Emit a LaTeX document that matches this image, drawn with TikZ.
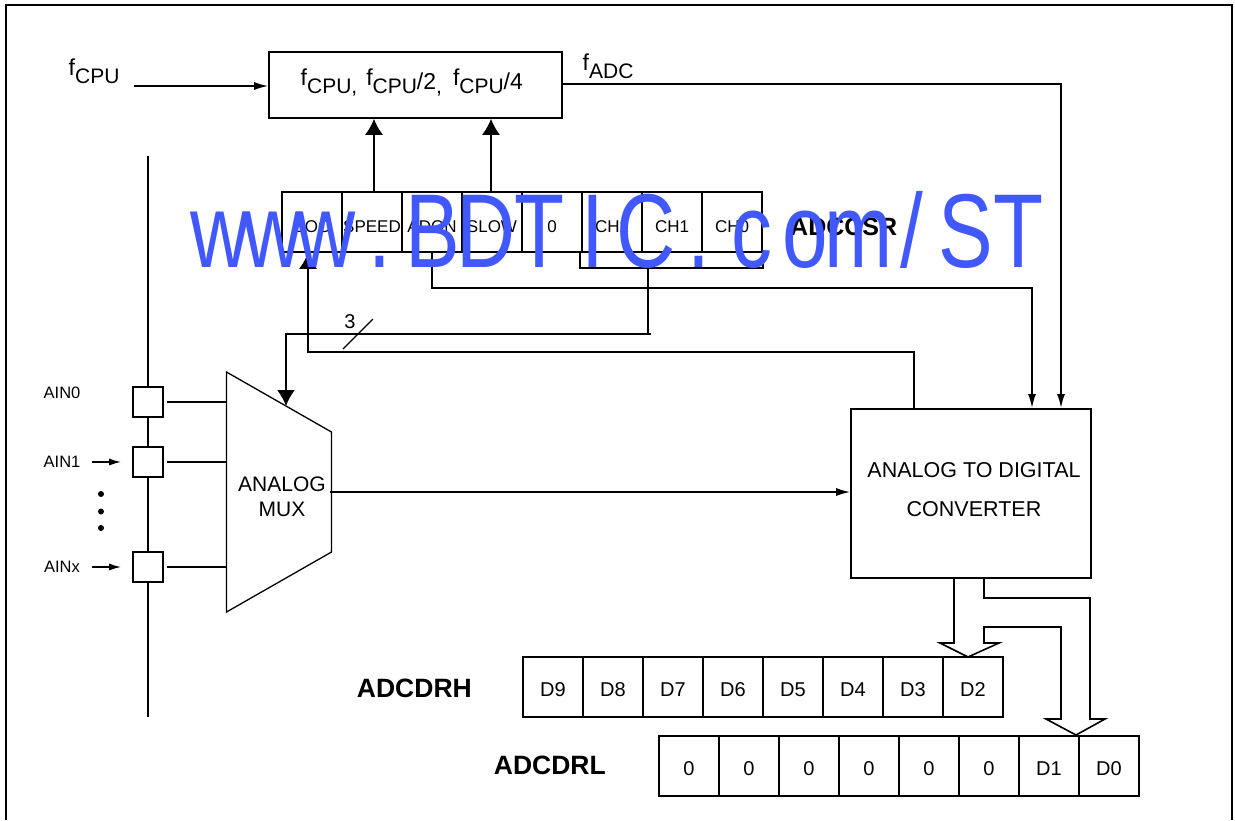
\documentclass[tikz,border=0pt]{standalone}
\usepackage{fontspec}
\setmainfont{Liberation Sans}
\usepackage{xcolor}
\usetikzlibrary{arrows.meta,positioning,calc}
\definecolor{markblue}{RGB}{65,88,255}
\newcommand{\subdrop}[1]{\raisebox{-8pt}{\fontsize{21}{23}\selectfont #1}}
\newcommand{\middrop}[1]{\raisebox{-4pt}{#1}}
\tikzset{
  sigline/.style={draw=black,line width=1.6pt},
  smallarrow/.style={sigline,-{Latex[length=14pt,width=8pt]}},
  pinarrow/.style={sigline,-{Latex[length=12pt,width=7pt]}},
  bigarrow/.style={sigline,-{Latex[length=16pt,width=18pt]}},
  regcell/.style={draw=black,line width=1.6pt,minimum width=60pt,minimum height=60pt,inner sep=0pt,text height=20pt,text depth=0pt,font=\fontsize{17}{19}\selectfont},
  datacell/.style={regcell,text height=18pt,font=\fontsize{20}{22}\selectfont},
  pinbox/.style={draw=black,line width=1.6pt,fill=white,minimum width=30pt,minimum height=30pt,inner sep=0pt},
  pinlabel/.style={font=\fontsize{16.5}{18}\selectfont,inner sep=0pt},
  reglabel/.style={font=\bfseries\fontsize{26.5}{28}\selectfont,inner sep=0pt},
  blocklabel/.style={font=\fontsize{21.5}{25}\selectfont,inner sep=0pt,align=center},
  clocklabel/.style={font=\fontsize{23}{26}\selectfont,inner sep=0pt,anchor=base west}
}
\begin{document}
\begin{tikzpicture}[x=1pt,y=-1pt]
  \useasboundingbox (0,0) rectangle (1235,820);
  % page frame
  \draw[sigline] (6,820) -- (6,5) -- (1232,5) -- (1232,820);

  % clock selection
  \node[draw,line width=1.6pt,minimum width=293pt,minimum height=66pt,inner sep=0pt] (prescaler) at (415.5,85) {};
  \node[clocklabel] (prescalertext) at (300.5,85) {f\subdrop{CPU,}\hspace{9pt}f\subdrop{CPU}\middrop{/2}\subdrop{,}\hspace{11pt}f\subdrop{CPU}\middrop{/4}};
  \node[clocklabel] (fcpu) at (68.5,75) {f\subdrop{CPU}};
  \node[clocklabel] (fadc) at (582.5,70) {f\subdrop{ADC}};
  \coordinate (fcpustart) at (134,86);
  \draw[smallarrow] (fcpustart) -- (fcpustart -| prescaler.west);

  % control register
  \foreach \lbl [count=\i] in {EOC,SPEED,ADON,SLOW,0,CH2,CH1,CH0} {
    \node[regcell] (csr\i) at ({252+60*\i},222) {\lbl};
  }
  \node[reglabel,anchor=west,font=\bfseries\fontsize{25}{28}\selectfont] (csrname) at (790,227) {ADCCSR};
  \coordinate (chcorner) at ($(csr6.south west)+(-1,15)$);
  \draw[sigline] (csr6.south west -| chcorner) -- (chcorner) -| (csr8.south east);
  \draw[bigarrow] ([xshift=2pt]csr2.north) -- ([xshift=2pt]csr2.north |- prescaler.south);
  \draw[bigarrow] ([xshift=-1pt]csr4.north) -- ([xshift=-1pt]csr4.north |- prescaler.south);

  % converter and multiplexer
  \node[draw,line width=1.6pt,minimum width=240pt,minimum height=169pt,inner sep=0pt] (adc) at (971,493.5) {};
  \node[blocklabel] (adctext) at (974,489.5) {ANALOG TO DIGITAL\\[14.5pt]CONVERTER};
  \draw[line width=1.3pt,line join=miter] (226.5,372) coordinate (muxtop) -- (331.5,432) -- (331.5,552) coordinate (muxlow) -- (226.5,612) coordinate (muxbot) -- cycle;
  \node[blocklabel,font=\fontsize{21}{25}\selectfont] (muxtext) at (282,496.5) {ANALOG\\MUX};
  \coordinate (muxout) at (330,492);
  \draw[smallarrow] (muxout) -- (muxout -| adc.west);

  % clock to converter, start and end of conversion
  \coordinate (adcclk) at (1061,408);
  \coordinate (adcstart) at (1032,408);
  \coordinate (adceoc) at (914,409);
  \draw[smallarrow] (prescaler.east |- 0,84) -| (adcclk);
  \draw[smallarrow] (csr3.south) |- (432,288) -| (adcstart);
  \draw[bigarrow] (adceoc) |- (308,352) -- ([xshift=-4pt]csr1.south);

  % channel select bus
  \coordinate (busend) at (651,334);
  \coordinate (muxsel) at (286,406);
  \draw[sigline] (648,267) -- (648,334);
  \draw[bigarrow] (busend) -| (muxsel);
  \draw[line width=1.1pt] (343,349) coordinate (slasha) -- (373,319) coordinate (slashb);
  \node[pinlabel,font=\fontsize{20}{22}\selectfont] (buswidth) at (350,322) {3};

  % analog inputs
  \draw[sigline] (148,156) coordinate (railtop) -- (148,717) coordinate (railbot);
  \foreach \name/\ypos in {0/402,1/462,x/567} {
    \node[pinbox] (pin\name) at (148,\ypos) {};
    \coordinate (muxin\name) at (226.5,\ypos);
    \draw[sigline] ([xshift=3pt]pin\name.east) -- (muxin\name);
  }
  \node[pinlabel] (ain0) at (62,393) {AIN0};
  \node[pinlabel] (ain1) at (62,462) {AIN1};
  \node[pinlabel] (ainx) at (62,567) {AINx};
  \foreach \name in {1,x} {
    \coordinate (pinarrow\name) at (92,0 |- pin\name);
    \draw[pinarrow] (pinarrow\name) -- ([xshift=-11pt]pin\name.west);
  }
  \foreach \ypos in {494,511.5,528} {
    \fill (101,\ypos) circle (3pt);
  }

  % data registers
  \foreach \lbl [count=\i] in {D9,D8,D7,D6,D5,D4,D3,D2} {
    \node[datacell] (drh\i) at ({493+60*\i},687) {\lbl};
  }
  \foreach \lbl [count=\i] in {0,0,0,0,0,0,D1,D0} {
    \node[datacell] (drl\i) at ({629+60*\i},766) {\lbl};
  }
  \node[reglabel,anchor=east] (drhname) at (472,688) {ADCDRH};
  \node[reglabel,anchor=east] (drlname) at (606,765) {ADCDRL};

  % hollow data arrows
  \draw[sigline,line join=miter] (954,578) -- (954,643) -- (940,643) -- (968,657) -- (999,643) -- (984,643) -- (984,627)
    -- (1061,627) -- (1061,719) -- (1046,719) -- (1076,735) -- (1105,719) -- (1090,719) -- (1090,598) -- (984,598) -- (984,578);

  % overprinted address
  \node[inner sep=0pt,anchor=base,text=markblue,font=\fontsize{105}{120}\selectfont,xscale=.78,transform shape] (stamp) at (619.3,267)
    {\foreach \ch in {w,w,w,.,B,D,T,I,C,.,c,o,m,/,S,T} {\makebox[68.3pt]{\ch}}};
\end{tikzpicture}
\end{document}
